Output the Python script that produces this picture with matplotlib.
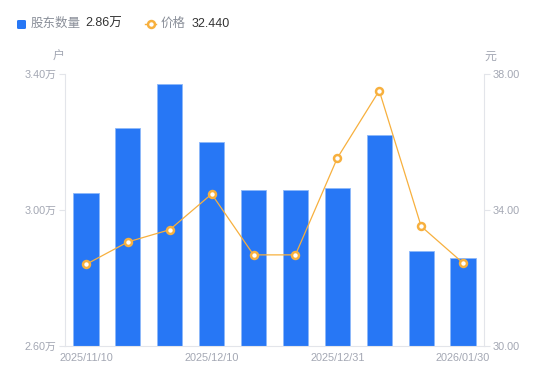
import matplotlib
matplotlib.use("Agg")
import matplotlib.pyplot as plt
from matplotlib.patches import FancyBboxPatch
from matplotlib.lines import Line2D

plt.rcParams['font.family'] = ['Liberation Sans', 'Noto Sans CJK SC', 'DejaVu Sans']

dates = ['2025/11/10', '', '', '2025/12/10', '', '', '2025/12/31', '', '', '2026/01/30']
holders = [3.05, 3.24, 3.37, 3.20, 3.06, 3.06, 3.065, 3.22, 2.88, 2.86]  # 万户
price = [32.40, 33.06, 33.42, 34.47, 32.68, 32.68, 35.53, 37.51, 33.52, 32.44]
left_ticks = [2.60, 3.00, 3.40]
right_ticks = [30.00, 34.00, 38.00]

W, H = 550, 381
fig = plt.figure(figsize=(W / 100, H / 100), dpi=100)

def fx(px):
    return px / W

def fy(py):
    return 1 - py / H

x0, x1, ytop, ybot = 65, 484, 74, 346
ax = fig.add_axes([fx(x0), fy(ybot), fx(x1) - fx(x0), fy(ytop) - fy(ybot)])
ax2 = ax.twinx()

bar_color = '#2777F5'
line_color = '#F7B03E'
grid_color = '#E3E5EA'
tick_color = '#A3A7B3'

xs = list(range(len(dates)))
ax.bar(xs, holders, width=0.6, color=bar_color, edgecolor='#8DB8FA', linewidth=0.6, zorder=2)
ax.set_xlim(-0.5, len(dates) - 0.5)
ax.set_ylim(left_ticks[0], left_ticks[-1])
ax.set_yticks(left_ticks)
ax.set_yticklabels([f'{v:.2f}万' for v in left_ticks])
ax.set_xticks(xs)
ax.set_xticklabels(dates)

ax2.plot(xs, price, color=line_color, linewidth=0.9, marker='o', markersize=5,
         markerfacecolor='white', markeredgecolor=line_color, markeredgewidth=1.8, zorder=3)
ax2.set_ylim(right_ticks[0], right_ticks[-1])
ax2.set_yticks(right_ticks)
ax2.set_yticklabels([f'{v:.2f}' for v in right_ticks])

for a in (ax, ax2):
    for s in a.spines.values():
        s.set_visible(False)
    a.tick_params(axis='y', colors=grid_color, labelcolor=tick_color, labelsize=7.8,
                  length=4, width=0.8, pad=2)
ax.tick_params(axis='x', length=0, labelcolor=tick_color, labelsize=7.8, pad=5)
ax.spines['left'].set_visible(True)
ax.spines['left'].set_color(grid_color)
ax.spines['bottom'].set_visible(True)
ax.spines['bottom'].set_color(grid_color)
ax2.spines['right'].set_visible(True)
ax2.spines['right'].set_color(grid_color)
ax.set_zorder(1)
ax2.set_zorder(2)
ax2.patch.set_visible(False)

# axis unit labels
fig.text(fx(59), fy(57), '户', color=tick_color, fontsize=8.6, ha='center', va='center')
fig.text(fx(490), fy(57), '元', color=tick_color, fontsize=8.6, ha='center', va='center')

# legend
fig.add_artist(FancyBboxPatch((fx(17), fy(29)), fx(9), 9 / H,
                              boxstyle='round,pad=0,rounding_size=0.003',
                              facecolor=bar_color, edgecolor='none', transform=fig.transFigure))
fig.text(fx(31), fy(24), '股东数量', color='#8A8F99', fontsize=9, ha='left', va='center')
fig.text(fx(85), fy(24), '2.86万', color='#333333', fontsize=9, ha='left', va='center')
fig.add_artist(Line2D([fx(145), fx(156)], [fy(24), fy(24)], color=line_color, linewidth=1,
                      transform=fig.transFigure))
fig.add_artist(Line2D([fx(150.5)], [fy(24)], color=line_color, marker='o', markersize=5,
                      markerfacecolor='white', markeredgewidth=1.8, transform=fig.transFigure))
fig.text(fx(161), fy(24), '价格', color='#8A8F99', fontsize=9, ha='left', va='center')
fig.text(fx(192), fy(24), '32.440', color='#333333', fontsize=9, ha='left', va='center')

fig.savefig('out.png', dpi=100)
